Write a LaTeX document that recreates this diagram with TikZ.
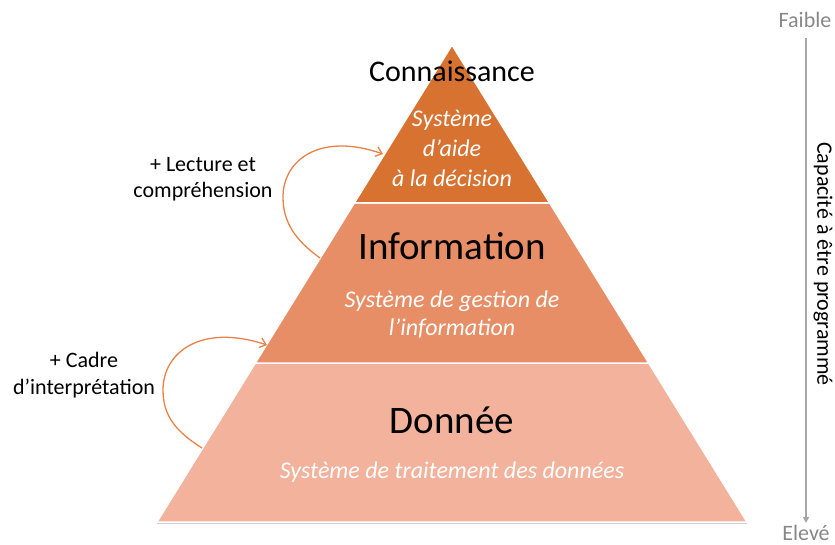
\documentclass[tikz,border=0pt]{standalone}
\usepackage{fontspec}
\setmainfont{Carlito}
\usetikzlibrary{arrows.meta}
\definecolor{topc}{RGB}{216,114,49}
\definecolor{midc}{RGB}{231,142,102}
\definecolor{botc}{RGB}{242,178,156}
\definecolor{arcc}{RGB}{232,130,72}
\definecolor{axgray}{RGB}{166,166,166}
\definecolor{lblgray}{RGB}{135,135,135}
\tikzset{
  layer/.style={draw=white, line width=1.5pt, line join=miter},
  lbl/.style={inner sep=0pt, anchor=base, font=\fontsize{22}{26}\selectfont},
  big/.style={inner sep=0pt, anchor=base, font=\fontsize{39}{44}\selectfont},
  sys/.style={inner sep=0pt, anchor=base, text=white, font=\fontsize{24}{28}\selectfont\itshape},
  loop/.style={draw=arcc, line width=1.3pt, -{Straight Barb[length=6pt,width=10pt]}},
}
\begin{document}
\begin{tikzpicture}[x=1pt,y=-1pt]
\useasboundingbox (0,0) rectangle (835,545);
% pyramid layers
\fill[gray!35] (157,524) -- (747,524) -- (747,522) -- (157,522) -- cycle;
\filldraw[layer, fill=botc] (255.3,363) -- (648.7,363) -- (747,522) -- (157,522) -- cycle;
\filldraw[layer, fill=midc] (354.3,203) -- (549.7,203) -- (648.7,363) -- (255.3,363) -- cycle;
\filldraw[layer, fill=topc] (452,45) -- (549.7,203) -- (354.3,203) -- cycle;
% texts
\node[lbl, font=\fontsize{30}{34}\selectfont] (conn) at (452,82) {Connaissance};
\node[sys] (s1a) at (452,127) {Système};
\node[sys] (s1b) at (452,157) {d’aide};
\node[sys] (s1c) at (452,187) {à la décision};
\node[big] (info) at (452,260) {Information};
\node[sys] (s2a) at (452,308) {Système de gestion de};
\node[sys] (s2b) at (452,335) {l’information};
\node[big] (don) at (452,433) {Donnée};
\node[sys] (s3) at (452,478) {Système de traitement des données};
% side labels
\node[lbl] (lec1) at (203,172) {+ Lecture et};
\node[lbl] (lec2) at (203,198) {compréhension};
\node[lbl] (cad1) at (84,367) {+ Cadre};
\node[lbl] (cad2) at (84,394) {d’interprétation};
% loops
\coordinate (a1s) at (320,258);
\coordinate (a1l) at (283,197);
\coordinate (a1e) at (383,154);
\coordinate (a2s) at (202,448);
\coordinate (a2l) at (163,390);
\coordinate (a2e) at (267,345);
\draw[loop] (a1s) .. controls (295,240) and (283,222) .. (a1l) .. controls (283,160) and (320,132) .. (a1e);
\draw[loop] (a2s) .. controls (175,431) and (163,415) .. (a2l) .. controls (163,353) and (200,323) .. (a2e);
% axis
\node[lbl, text=lblgray] (faible) at (805,28) {Faible};
\node[lbl, text=lblgray] (eleve) at (806,540) {Elevé};
\coordinate (axt) at (806,38);
\coordinate (axb) at (806,523);
\draw[axgray, line width=1.5pt, -{Triangle[length=6pt,width=6pt]}] (axt) -- (axb);
\node[inner sep=0pt, rotate=-90, font=\fontsize{22}{26}\selectfont] (cap) at (823,264) {Capacité à être programmé};
\end{tikzpicture}
\end{document}
